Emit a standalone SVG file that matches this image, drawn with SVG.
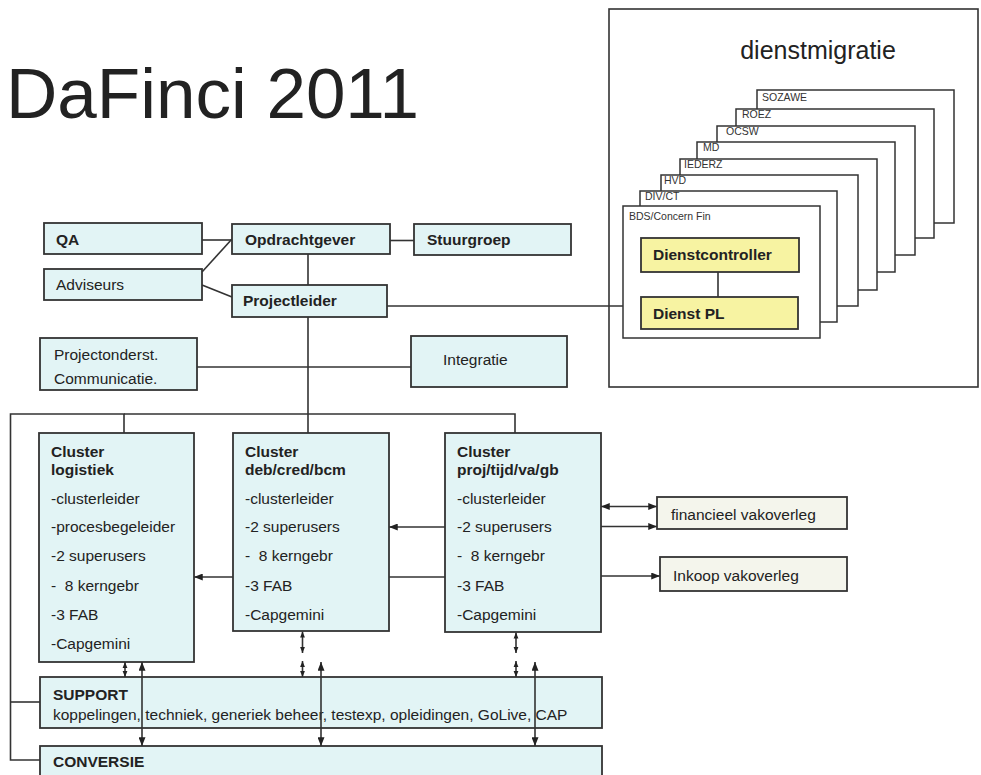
<svg xmlns="http://www.w3.org/2000/svg" width="981" height="775" viewBox="0 0 981 775">
<defs>
<style>
.box{fill:#e2f4f5;stroke:#333;stroke-width:1.8}
.ybox{fill:#f7f3a2;stroke:#333;stroke-width:1.8}
.wbox{fill:#fff;stroke:#333;stroke-width:1.5}
.cbox{fill:#f4f5ec;stroke:#333;stroke-width:1.8}
.t{font-family:"Liberation Sans",Arial,sans-serif;font-size:15.5px;fill:#222}
.b{font-weight:bold}
.s{font-size:10.5px;fill:#333}
.ln{stroke:#333;stroke-width:1.6;fill:none}
</style>
<marker id="a" viewBox="0 0 10 8" refX="10" refY="4" markerWidth="9" markerHeight="7" markerUnits="userSpaceOnUse" orient="auto-start-reverse"><path d="M0,0 L10,4 L0,8z" fill="#222"/></marker>
<marker id="a2" viewBox="0 0 10 8" refX="10" refY="4" markerWidth="6" markerHeight="5.5" markerUnits="userSpaceOnUse" orient="auto-start-reverse"><path d="M0,0 L10,4 L0,8z" fill="#222"/></marker>
</defs>
<rect width="981" height="775" fill="#fff"/>
<text class="t" x="6" y="118" style="font-size:71px">DaFinci 2011</text>

<g id="dienstmigratie">
<rect x="609" y="9" width="369" height="378" fill="#fff" stroke="#333" stroke-width="1.6"/>
<text class="t" x="818" y="58.5" text-anchor="middle" style="font-size:25px">dienstmigratie</text>
</g>

<g id="connectors">
<line class="ln" x1="387" y1="306" x2="623" y2="306"/>
<line class="ln" x1="202" y1="240" x2="232" y2="240"/>
<line class="ln" x1="202" y1="272" x2="232" y2="239"/>
<line class="ln" x1="202" y1="285" x2="232" y2="297"/>
<line class="ln" x1="390" y1="240.5" x2="414" y2="240.5"/>
<line class="ln" x1="308" y1="254" x2="308" y2="433"/>
<line class="ln" x1="197" y1="367" x2="411" y2="367"/>
<polyline class="ln" points="124,433 124,414 10.5,414 10.5,760 40,760"/>
<line class="ln" x1="10.5" y1="702" x2="40" y2="702"/>
<polyline class="ln" points="124,414 515,414 515,433"/>
<line class="ln" x1="445" y1="527" x2="389" y2="527" marker-end="url(#a)"/>
<line class="ln" x1="445" y1="577" x2="389" y2="577"/>
<line class="ln" x1="233" y1="577" x2="194" y2="577" marker-end="url(#a)"/>
<line class="ln" x1="601" y1="506.5" x2="657" y2="506.5" marker-start="url(#a)" marker-end="url(#a)"/>
<line class="ln" x1="601" y1="526.5" x2="657" y2="526.5" marker-end="url(#a)"/>
<line class="ln" x1="601" y1="576" x2="660" y2="576" marker-end="url(#a)"/>
</g>

<g id="stack">
<rect class="wbox" x="757" y="90" width="197" height="133"/>
<text class="t s" x="762" y="100.5">SOZAWE</text>
<rect class="wbox" x="736" y="109" width="198" height="129"/>
<text class="t s" x="742" y="117.5">ROEZ</text>
<rect class="wbox" x="717" y="126" width="198" height="129"/>
<text class="t s" x="726" y="135">OCSW</text>
<rect class="wbox" x="697" y="142" width="198" height="130"/>
<text class="t s" x="703" y="151">MD</text>
<rect class="wbox" x="680" y="159" width="197" height="131"/>
<text class="t s" x="684" y="168">IEDERZ</text>
<rect class="wbox" x="661" y="175" width="197" height="131"/>
<text class="t s" x="664" y="184">HVD</text>
<rect class="wbox" x="640" y="191" width="197" height="131"/>
<text class="t s" x="645" y="200">DIV/CT</text>
<rect class="wbox" x="623" y="206" width="197" height="132"/>
<text class="t s" x="629" y="219.5">BDS/Concern Fin</text>
</g>
<g id="dienst-connector">
<line class="ln" x1="718" y1="272" x2="718" y2="297"/>
</g>

<g id="dienstcontroller">
<rect class="ybox" x="641" y="238" width="158" height="34"/>
<text class="t b" x="653" y="260">Dienstcontroller</text>
</g>
<g id="dienstpl">
<rect class="ybox" x="641" y="297" width="157" height="32"/>
<text class="t b" x="653" y="319">Dienst PL</text>
</g>

<g id="qa">
<rect class="box" x="44" y="223" width="158" height="31"/>
<text class="t b" x="56" y="244.5">QA</text>
</g>
<g id="adviseurs">
<rect class="box" x="44" y="269" width="158" height="31"/>
<text class="t" x="56" y="290">Adviseurs</text>
</g>
<g id="opdrachtgever">
<rect class="box" x="232" y="224" width="158" height="30"/>
<text class="t b" x="245" y="244.5">Opdrachtgever</text>
</g>
<g id="stuurgroep">
<rect class="box" x="414" y="224" width="157" height="31"/>
<text class="t b" x="427" y="245">Stuurgroep</text>
</g>
<g id="projectleider">
<rect class="box" x="232" y="285" width="155" height="32"/>
<text class="t b" x="243" y="305.5">Projectleider</text>
</g>
<g id="projectonderst">
<rect class="box" x="40" y="338" width="157" height="52"/>
<text class="t" x="54" y="359.5">Projectonderst.</text>
<text class="t" x="54" y="383.5">Communicatie.</text>
</g>
<g id="integratie">
<rect class="box" x="411" y="336" width="156" height="51"/>
<text class="t" x="443" y="365">Integratie</text>
</g>

<g id="cluster-logistiek">
<rect class="box" x="39" y="433" width="155" height="229"/>
<text class="t b" x="51" y="457">Cluster</text>
<text class="t b" x="51" y="475">logistiek</text>
<text class="t" x="51" y="503.5">-clusterleider</text>
<text class="t" x="51" y="532">-procesbegeleider</text>
<text class="t" x="51" y="561">-2 superusers</text>
<text class="t" x="51" y="590.5">-&#160; 8 kerngebr</text>
<text class="t" x="51" y="620">-3 FAB</text>
<text class="t" x="51" y="649">-Capgemini</text>
</g>
<g id="cluster-deb">
<rect class="box" x="233" y="433" width="156" height="198"/>
<text class="t b" x="245" y="457">Cluster</text>
<text class="t b" x="245" y="475">deb/cred/bcm</text>
<text class="t" x="245" y="503.5">-clusterleider</text>
<text class="t" x="245" y="532">-2 superusers</text>
<text class="t" x="245" y="561">-&#160; 8 kerngebr</text>
<text class="t" x="245" y="590.5">-3 FAB</text>
<text class="t" x="245" y="620">-Capgemini</text>
</g>
<g id="cluster-proj">
<rect class="box" x="445" y="433" width="156" height="199"/>
<text class="t b" x="457" y="457">Cluster</text>
<text class="t b" x="457" y="475">proj/tijd/va/gb</text>
<text class="t" x="457" y="503.5">-clusterleider</text>
<text class="t" x="457" y="532">-2 superusers</text>
<text class="t" x="457" y="561">-&#160; 8 kerngebr</text>
<text class="t" x="457" y="590.5">-3 FAB</text>
<text class="t" x="457" y="620">-Capgemini</text>
</g>
<g id="financieel">
<rect class="cbox" x="657" y="497" width="190" height="32"/>
<text class="t" x="671" y="520">financieel vakoverleg</text>
</g>
<g id="inkoop">
<rect class="cbox" x="660" y="557" width="187" height="34"/>
<text class="t" x="673" y="580.5">Inkoop vakoverleg</text>
</g>

<g id="support">
<rect class="box" x="40" y="677" width="562" height="51"/>
<text class="t b" x="53" y="699.5">SUPPORT</text>
<text class="t" x="53" y="719.5">koppelingen, techniek, generiek beheer, testexp, opleidingen, GoLive, CAP</text>
</g>
<g id="conversie">
<rect class="box" x="40" y="746" width="562" height="40"/>
<text class="t b" x="53" y="767">CONVERSIE</text>
</g>

<g id="vertical-arrows">
<line class="ln" x1="125" y1="662" x2="125" y2="677" marker-start="url(#a2)" marker-end="url(#a2)"/>
<line class="ln" x1="142" y1="662" x2="142" y2="746" marker-start="url(#a)" marker-end="url(#a)"/>
<line class="ln" x1="302.5" y1="631.5" x2="302.5" y2="653" marker-start="url(#a2)" marker-end="url(#a2)"/>
<line class="ln" x1="302.5" y1="661" x2="302.5" y2="677" marker-start="url(#a2)" marker-end="url(#a2)"/>
<line class="ln" x1="321" y1="662" x2="321" y2="746" marker-start="url(#a)" marker-end="url(#a)"/>
<line class="ln" x1="516" y1="632.5" x2="516" y2="653" marker-start="url(#a2)" marker-end="url(#a2)"/>
<line class="ln" x1="516" y1="661" x2="516" y2="677" marker-start="url(#a2)" marker-end="url(#a2)"/>
<line class="ln" x1="535" y1="662" x2="535" y2="746" marker-start="url(#a)" marker-end="url(#a)"/>
</g>
</svg>
